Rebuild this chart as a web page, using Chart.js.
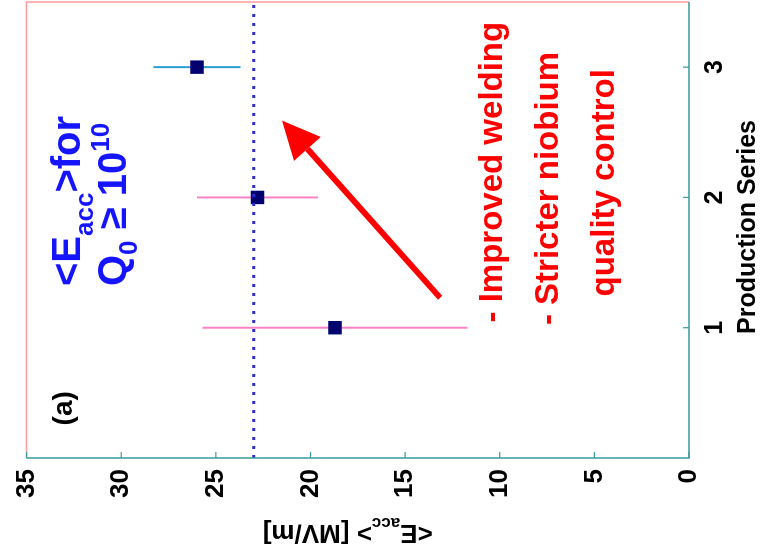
<!DOCTYPE html>
<html>
<head>
<meta charset="utf-8">
<script src="https://cdn.jsdelivr.net/npm/chart.js@4/dist/chart.umd.min.js"></script>
<style>
  html, body { margin: 0; padding: 0; background: #fff; overflow: hidden; }
  /* chart is drawn upright, then turned a quarter turn counter-clockwise */
  #wrap { position: absolute; left: 0; top: 0; width: 559px; height: 760px;
          transform-origin: 0 0; transform: translate(0px, 559px) rotate(-90deg); }
</style>
</head>
<body>
<div id="wrap"><canvas id="myChart" width="559" height="760"></canvas></div>
<script>
// data
const series = [1, 2, 3];
const seriesLabels = ['1', '2', '3'];
const eaccMean = [18.7, 22.8, 26.0];
const eaccErr = [7.0, 3.2, 2.3];
const errColors = ['#ff82c6', '#ff82c6', '#2c9ed6'];
const overallMean = 23.0;
const xRange = [0, 3.5];
const yRange = [0, 35];

const FONT = "'Liberation Sans', Arial, sans-serif";

// draws text made of pieces (for sub/superscripts), left aligned on a baseline
function richWidth(ctx, parts) {
  let w = 0;
  parts.forEach(p => { ctx.font = 'bold ' + p.s + 'px ' + FONT; w += ctx.measureText(p.t).width; });
  return w;
}
function drawRich(ctx, parts, x, y) {
  parts.forEach(p => {
    ctx.font = 'bold ' + p.s + 'px ' + FONT;
    ctx.fillText(p.t, x, y + (p.dy || 0));
    x += ctx.measureText(p.t).width;
  });
}

const extras = {
  id: 'extras',
  afterDraw(chart) {
    const ctx = chart.ctx;
    const a = chart.chartArea;
    const xs = chart.scales.x, ys = chart.scales.y;
    ctx.save();

    // box
    ctx.lineWidth = 1.5;
    ctx.strokeStyle = '#ff9c9c';
    ctx.beginPath();
    ctx.moveTo(a.left, a.top); ctx.lineTo(a.right, a.top); ctx.lineTo(a.right, a.bottom);
    ctx.stroke();
    ctx.strokeStyle = '#3a9a9c';
    ctx.beginPath();
    ctx.moveTo(a.left, a.top); ctx.lineTo(a.left, a.bottom); ctx.lineTo(a.right, a.bottom);
    ctx.stroke();

    // inward ticks
    ctx.lineWidth = 1.2;
    xs.ticks.forEach(t => {
      const px = xs.getPixelForValue(t.value);
      ctx.beginPath(); ctx.moveTo(px, a.bottom); ctx.lineTo(px, a.bottom - 6); ctx.stroke();
    });
    ys.ticks.forEach(t => {
      const py = ys.getPixelForValue(t.value);
      ctx.beginPath(); ctx.moveTo(a.left, py); ctx.lineTo(a.left + 6, py); ctx.stroke();
    });

    ctx.textAlign = 'left';
    ctx.textBaseline = 'alphabetic';

    // axis titles
    ctx.fillStyle = '#000';
    ctx.font = 'bold 25px ' + FONT;
    ctx.textAlign = 'center';
    ctx.fillText('Production Series', (a.left + a.right) / 2 + 3, a.bottom + 66);
    ctx.textAlign = 'left';
    const yTitle = [{t: '<E', s: 26}, {t: 'acc', s: 17, dy: 7}, {t: '> [MV/m]', s: 26}];
    ctx.save();
    ctx.translate(34, (a.top + a.bottom) / 2 - 10);
    ctx.rotate(-Math.PI / 2);
    drawRich(ctx, yTitle, -richWidth(ctx, yTitle) / 2, 0);
    ctx.restore();

    // panel tag
    ctx.font = 'bold 28px ' + FONT;
    ctx.fillText('(a)', xs.getPixelForValue(0.25), ys.getPixelForValue(32.6));

    // blue note
    ctx.fillStyle = '#1414ff';
    drawRich(ctx, [{t: '<E', s: 40}, {t: 'acc', s: 26, dy: 13}, {t: '>for', s: 40}],
      xs.getPixelForValue(1.32), ys.getPixelForValue(32.2));
    drawRich(ctx, [{t: 'Q', s: 40}, {t: '0', s: 26, dy: 11}, {t: ' \u2265 10', s: 40}, {t: '10', s: 26, dy: -17}],
      xs.getPixelForValue(1.32), ys.getPixelForValue(29.75));

    // red note
    ctx.fillStyle = '#ff0000';
    ctx.font = 'bold 33px ' + FONT;
    ctx.fillText('- Improved welding', xs.getPixelForValue(1.04), ys.getPixelForValue(9.9));
    ctx.fillText('- Stricter niobium', xs.getPixelForValue(1.02), ys.getPixelForValue(6.9));
    ctx.fillText('quality control', xs.getPixelForValue(1.24), ys.getPixelForValue(3.95));

    // arrow
    const x0 = xs.getPixelForValue(1.23), y0 = ys.getPixelForValue(13.15);
    const x1 = xs.getPixelForValue(2.59), y1 = ys.getPixelForValue(21.5);
    const ang = Math.atan2(y1 - y0, x1 - x0);
    const hl = 38, hw = 18;
    const bx = x1 - hl * Math.cos(ang), by = y1 - hl * Math.sin(ang);
    ctx.strokeStyle = '#ff0000';
    ctx.lineWidth = 6;
    ctx.beginPath(); ctx.moveTo(x0, y0); ctx.lineTo(bx, by); ctx.stroke();
    ctx.beginPath();
    ctx.moveTo(x1, y1);
    ctx.lineTo(bx + hw * Math.sin(ang), by - hw * Math.cos(ang));
    ctx.lineTo(bx - hw * Math.sin(ang), by + hw * Math.cos(ang));
    ctx.closePath();
    ctx.fill();

    ctx.restore();
  }
};

const errorSets = series.map((s, i) => ({
  type: 'line',
  data: [{x: s, y: eaccMean[i] - eaccErr[i]}, {x: s, y: eaccMean[i] + eaccErr[i]}],
  borderColor: errColors[i],
  borderWidth: 2,
  pointRadius: 0,
  order: 2
}));

const ctx = document.getElementById('myChart').getContext('2d');
const myChart = new Chart(ctx, {
  type: 'scatter',
  data: {
    datasets: [
      ...errorSets,
      {
        type: 'line',
        data: [{x: xRange[0], y: overallMean}, {x: xRange[1], y: overallMean}],
        borderColor: '#2f2fd0',
        borderWidth: 3,
        borderDash: [3, 6],
        pointRadius: 0,
        order: 0
      },
      {
        data: series.map((s, i) => ({x: s, y: eaccMean[i]})),
        pointStyle: 'rect',
        pointRadius: 9.5,
        backgroundColor: '#00006e',
        borderWidth: 0,
        order: 1
      }
    ]
  },
  options: {
    responsive: false,
    animation: false,
    devicePixelRatio: 1,
    layout: { autoPadding: false, padding: { top: 22, right: 2, left: 0, bottom: 0 } },
    plugins: { legend: { display: false }, tooltip: { enabled: false } },
    scales: {
      x: {
        type: 'linear', min: xRange[0], max: xRange[1],
        grid: { display: false, drawTicks: false },
        border: { display: false },
        afterBuildTicks: s => { s.ticks = series.map(v => ({value: v})); },
        afterFit: s => { s.height = 71; },
        ticks: {
          padding: 11, color: '#000',
          font: { family: FONT, size: 25, weight: 'bold' },
          callback: v => seriesLabels[series.indexOf(v)]
        }
      },
      y: {
        min: yRange[0], max: yRange[1],
        grid: { display: false, drawTicks: false },
        border: { display: false },
        afterFit: s => { s.width = 101; },
        ticks: {
          stepSize: 5, padding: 11, color: '#000',
          font: { family: FONT, size: 26, weight: 'bold' }
        }
      }
    }
  },
  plugins: [extras]
});
</script>
</body>
</html>
